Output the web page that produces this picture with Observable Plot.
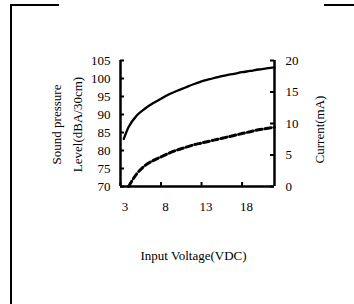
<!DOCTYPE html>
<html>
<head>
<meta charset="utf-8">
<script src="https://cdn.jsdelivr.net/npm/d3@7"></script>
<script src="https://cdn.jsdelivr.net/npm/@observablehq/plot@0.6"></script>
<style>
  body { margin: 0; background: white; }
  #wrap { position: relative; width: 354px; height: 304px; overflow: hidden; }
  .fr { position: absolute; background: black; }
</style>
</head>
<body>
<div id="wrap">
  <div class="fr" style="left:10px; top:4px; width:2px; height:300px;"></div>
  <div class="fr" style="left:10px; top:4px; width:49px; height:2px;"></div>
  <div class="fr" style="left:324px; top:4px; width:30px; height:2px;"></div>
</div>
<script>
// Data
const splVoltage = [3.4, 4, 5, 6, 7, 8, 9, 10, 11, 12, 13, 14, 15, 16, 17, 18, 19, 20, 21, 22];
const splValues  = [83.2, 86.5, 89.7, 91.6, 93.1, 94.4, 95.6, 96.6, 97.5, 98.4, 99.2, 99.8, 100.4, 100.9, 101.3, 101.75, 102.1, 102.5, 102.8, 103.1];
const curVoltage = [4, 5, 6, 7, 8, 9, 10, 11, 12, 13, 14, 15, 16, 17, 18, 19, 20, 21, 22];
const curValues  = [0, 2.0, 3.3, 4.1, 4.7, 5.3, 5.8, 6.2, 6.6, 6.9, 7.2, 7.5, 7.8, 8.1, 8.4, 8.7, 9.0, 9.2, 9.4];
const xTicks = [3, 8, 13, 18];
const splTicks = [70, 75, 80, 85, 90, 95, 100, 105];
const curTicks = [0, 5, 10, 15, 20];
const xDomain = [3, 22];
const splDomain = [70, 105];
const curDomain = [0, 20];

const toSpl = c => splDomain[0] + (c - curDomain[0]) * (splDomain[1] - splDomain[0]) / (curDomain[1] - curDomain[0]);

const W = 354, H = 304, mL = 120, mR = 80, mT = 60, mB = 118;
const fw = W - mL - mR, fh = H - mT - mB, tk = 4;

const splData = splVoltage.map((v, i) => ({v, y: splValues[i]}));
const curData = curVoltage.map((v, i) => ({v, y: toSpl(curValues[i])}));

const chart = Plot.plot({
  width: W, height: H,
  marginLeft: mL, marginRight: mR, marginTop: mT, marginBottom: mB,
  x: {domain: xDomain},
  y: {domain: splDomain},
  style: {fontFamily: "'Liberation Serif', 'Times New Roman', serif", fontSize: "13px", color: "black", background: "transparent", overflow: "visible"},
  marks: [
    Plot.axisY(splTicks, {anchor: "left", tickSize: 0, tickPadding: 10, label: null}),
    Plot.axisY(curTicks.map(toSpl), {anchor: "right", tickSize: 0, tickPadding: 11, label: null,
      tickFormat: d => String(Math.round((d - splDomain[0]) * (curDomain[1] - curDomain[0]) / (splDomain[1] - splDomain[0])))}),
    Plot.axisX(xTicks, {anchor: "bottom", tickSize: 0, tickPadding: 15, dx: 4.5, label: null}),
    Plot.tickY(splTicks, {y: d => d, insetRight: fw - tk, strokeWidth: 2}),
    Plot.tickY(curTicks.map(toSpl), {y: d => d, insetLeft: fw - tk, strokeWidth: 2}),
    Plot.tickX(xTicks, {x: d => d, insetTop: fh - tk, strokeWidth: 2}),
    Plot.ruleX(xDomain, {strokeWidth: 2.5}),
    Plot.ruleY([splDomain[0]], {strokeWidth: 2.5}),
    Plot.line(splData, {x: "v", y: "y", curve: "monotone-x", stroke: "black", strokeWidth: 2.3}),
    Plot.line(curData, {x: "v", y: "y", curve: "monotone-x", stroke: "black", strokeWidth: 3, strokeDasharray: "6,3"}),
    Plot.text(["Input Voltage(VDC)"], {frameAnchor: "bottom", dy: 69, dx: -4, lineAnchor: "middle", textAnchor: "middle"}),
    Plot.text(["Sound pressure\nLevel(dBA/30cm)"], {frameAnchor: "left", dx: -56, dy: 1, rotate: -90, lineAnchor: "middle", textAnchor: "middle", lineHeight: 1.6}),
    Plot.text(["Current(mA)"], {frameAnchor: "right", dx: 45, dy: 6, rotate: -90, lineAnchor: "middle", textAnchor: "middle"})
  ]
});
chart.style.position = "absolute";
chart.style.left = "0px";
chart.style.top = "0px";
document.getElementById("wrap").appendChild(chart);
</script>
</body>
</html>
